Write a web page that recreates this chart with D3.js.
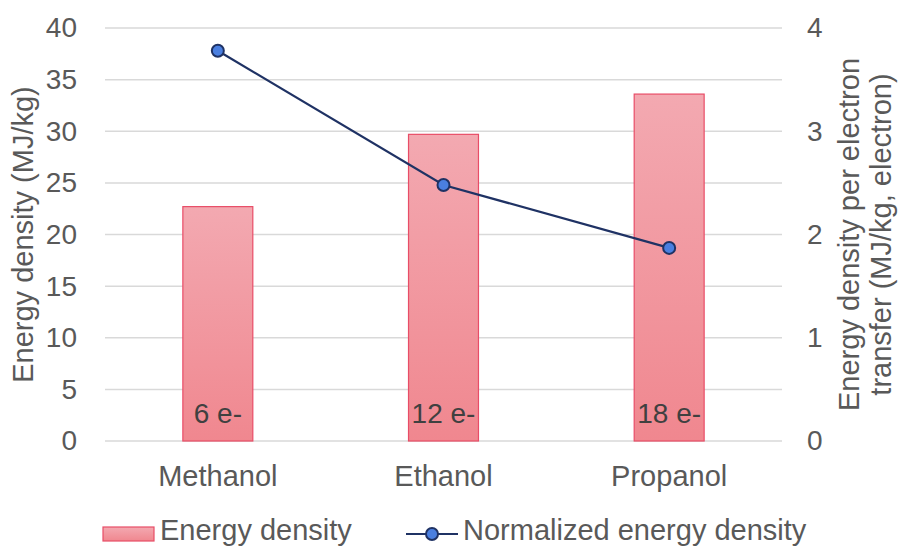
<!DOCTYPE html>
<html>
<head>
<meta charset="utf-8">
<script src="https://cdn.jsdelivr.net/npm/d3@7"></script>
<style>
  html, body { margin: 0; padding: 0; background: #fff; overflow: hidden; }
  svg { display: block; font-family: "Liberation Sans", Arial, sans-serif; }
</style>
</head>
<body>
<svg id="chart" width="901" height="546"></svg>
<script>
// Fuel data
const categories = ["Methanol", "Ethanol", "Propanol"];
const energyDensity = [22.7, 29.7, 33.6];          // MJ/kg
const electrons = [6, 12, 18];                     // electrons transferred
const normalizedDensity = [3.78, 2.48, 1.87];      // MJ/kg per electron
const barLabels = ["6 e-", "12 e-", "18 e-"];
const leftTicks = [0, 5, 10, 15, 20, 25, 30, 35, 40];
const rightTicks = [0, 1, 2, 3, 4];

const svg = d3.select("#chart");
const plot = { left: 105, right: 782, top: 28, bottom: 441 };
const fontSize = "28px";
const bigFont = "29px";
const fontFamily = "Liberation Sans, Arial, sans-serif";

const x = d3.scaleBand().domain(categories).range([plot.left, plot.right]).paddingInner(0.69).paddingOuter(0.345);
const yL = d3.scaleLinear().domain([0, 40]).range([plot.bottom, plot.top]);
const yR = d3.scaleLinear().domain([0, 4]).range([plot.bottom, plot.top]);

const textColor = "#595959";

// Bar gradient
const defs = svg.append("defs");
const grad = defs.append("linearGradient").attr("id", "barGrad").attr("x1", 0).attr("y1", 0).attr("x2", 0).attr("y2", 1);
grad.append("stop").attr("offset", "0%").attr("stop-color", "#f3a9b1");
grad.append("stop").attr("offset", "100%").attr("stop-color", "#f0878f");

// Gridlines
svg.append("g")
  .selectAll("line").data(leftTicks).join("line")
  .attr("x1", plot.left).attr("x2", plot.right)
  .attr("y1", d => yL(d)).attr("y2", d => yL(d))
  .attr("stroke", "#d9d9d9").attr("stroke-width", 1.5);

function styleAxis(size) {
  return g => {
    g.select(".domain").remove();
    g.selectAll("text").attr("fill", textColor)
      .style("font-size", size).style("font-family", fontFamily);
  };
}

// Left axis
svg.append("g").attr("transform", `translate(${plot.left - 28},0)`)
  .call(d3.axisLeft(yL).tickValues(leftTicks).tickSize(0).tickPadding(0))
  .call(styleAxis(fontSize));

// Right axis
svg.append("g").attr("transform", `translate(${plot.right + 25},0)`)
  .call(d3.axisRight(yR).tickValues(rightTicks).tickFormat(d3.format("d")).tickSize(0).tickPadding(0))
  .call(styleAxis(fontSize));

// Category axis
svg.append("g").attr("transform", `translate(0,${plot.bottom + 24})`)
  .call(d3.axisBottom(x).tickSize(0).tickPadding(0))
  .call(styleAxis(bigFont));

// Bars
svg.append("g").selectAll("rect").data(categories).join("rect")
  .attr("x", d => x(d))
  .attr("y", (d, i) => yL(energyDensity[i]))
  .attr("width", x.bandwidth())
  .attr("height", (d, i) => yL(0) - yL(energyDensity[i]))
  .attr("fill", "url(#barGrad)")
  .attr("stroke", "#e84d67").attr("stroke-width", 1.2);

// Electron labels inside bars
svg.append("g").selectAll("text").data(categories).join("text")
  .attr("x", d => x(d) + x.bandwidth() / 2)
  .attr("y", plot.bottom - 18)
  .attr("text-anchor", "middle")
  .attr("fill", "#404040").style("font-size", fontSize)
  .text((d, i) => barLabels[i]);

// Normalized line
const cx = d => x(d) + x.bandwidth() / 2;
const line = d3.line().x(d => cx(d.c)).y(d => yR(d.v));
const pts = categories.map((c, i) => ({ c, v: normalizedDensity[i] }));
svg.append("path").datum(pts)
  .attr("d", line).attr("fill", "none")
  .attr("stroke", "#1f3264").attr("stroke-width", 2.2);
svg.append("g").selectAll("circle").data(pts).join("circle")
  .attr("cx", d => cx(d.c)).attr("cy", d => yR(d.v)).attr("r", 6)
  .attr("fill", "#4a7fe0").attr("stroke", "#1f3264").attr("stroke-width", 2);

// Axis titles
svg.append("text")
  .attr("transform", `translate(33,${(plot.top + plot.bottom) / 2}) rotate(-90)`)
  .attr("text-anchor", "middle").attr("fill", textColor).style("font-size", bigFont)
  .text("Energy density (MJ/kg)");
const rt = svg.append("text")
  .attr("transform", `translate(859,${(plot.top + plot.bottom) / 2}) rotate(-90)`)
  .attr("text-anchor", "middle").attr("fill", textColor).style("font-size", bigFont);
rt.append("tspan").attr("x", 0).attr("dy", 0).text("Energy density per electron");
rt.append("tspan").attr("x", 0).attr("dy", 32).text("transfer (MJ/kg, electron)");

// Legend
const leg = svg.append("g");
leg.append("rect").attr("x", 103).attr("y", 527).attr("width", 51).attr("height", 14)
  .attr("fill", "url(#barGrad)").attr("stroke", "#e84d67").attr("stroke-width", 1.2);
leg.append("text").attr("x", 160).attr("y", 540).attr("fill", textColor)
  .style("font-size", bigFont).text("Energy density");
leg.append("line").attr("x1", 406).attr("x2", 458).attr("y1", 534).attr("y2", 534)
  .attr("stroke", "#1f3264").attr("stroke-width", 2.2);
leg.append("circle").attr("cx", 432).attr("cy", 534).attr("r", 6)
  .attr("fill", "#4a7fe0").attr("stroke", "#1f3264").attr("stroke-width", 2);
leg.append("text").attr("x", 463).attr("y", 540).attr("fill", textColor)
  .style("font-size", bigFont).text("Normalized energy density");
</script>
</body>
</html>
